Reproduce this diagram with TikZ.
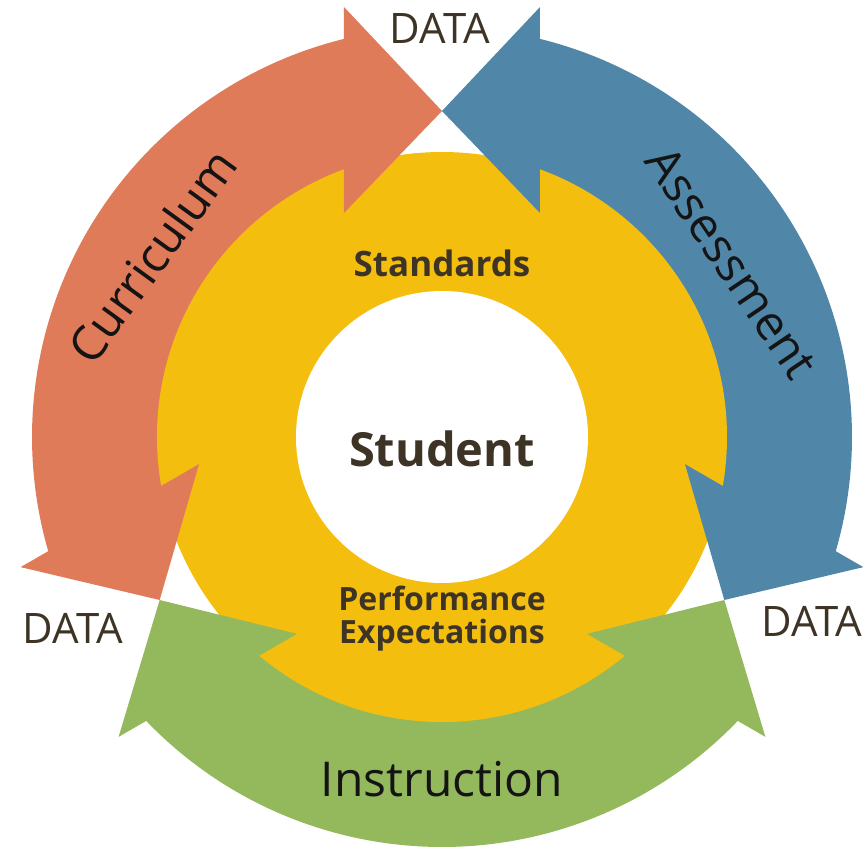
\documentclass[tikz,border=0pt]{standalone}
\usepackage{fontspec}
\setmainfont{Open Sans}

\definecolor{curriculum}{HTML}{E07B5A}
\definecolor{assessment}{HTML}{5087A8}
\definecolor{instruction}{HTML}{93B95C}
\definecolor{standards}{HTML}{F4BE0F}
\definecolor{labeltext}{HTML}{3D3426}

\tikzset{
  datalabel/.style={text=labeltext, font=\fontsize{42}{42}\selectfont},
  ringlabel/.style={text=labeltext, font=\bfseries\fontsize{35}{35}\selectfont},
  bandlabel/.style={text=black!92, font=\fontsize{48}{48}\selectfont},
}

\begin{document}
\begin{tikzpicture}[x=1pt, y=1pt]
    \useasboundingbox (-442,-420) rectangle (426,437);

    % bands of the three outer arrows (heads come later, on top of the ring)
    \foreach \rot/\col in {60/curriculum, -60/assessment, 180/instruction}
      \fill[\col, rotate=\rot] (43.7:410) arc[start angle=43.7, end angle=136.3, radius=410]
        -- (136.3:270) arc[start angle=136.3, end angle=43.7, radius=270] -- cycle;

    % yellow ring with the white centre
    \fill[standards] (0,0) circle[radius=285];
    \fill[white] (0,0) circle[radius=146];

    % arrow heads at both ends of each band
    \foreach \rot/\col in {60/curriculum, -60/assessment, 180/instruction} {
      \fill[\col, rotate=\rot-60] (-98,224) -- (0,326) -- (-98,430) -- cycle;
      \fill[\col, rotate=\rot+60] (98,224) -- (0,326) -- (98,430) -- cycle;
    }

    \node[bandlabel, rotate=54] (curr) at (148:342) {Curriculum};
    \node[bandlabel, rotate=-56] (assess) at (31:338) {Assessment};
    \node[bandlabel] (instr) at (0,-342) {Instruction};

    \node[datalabel] (datatop) at (-2,409) {DATA};
    \node[datalabel] (dataleft) at (-369,-191) {DATA};
    \node[datalabel] (dataright) at (370,-184) {DATA};

    \node[ringlabel] (stand) at (0,174) {Standards};
    \node[ringlabel, font=\bfseries\fontsize{47}{47}\selectfont] (student) at (0,-12) {Student};
    \node[ringlabel, align=center, font=\bfseries\fontsize{32}{33}\selectfont] (perf) at (0,-182)
      {Performance\\Expectations};
\end{tikzpicture}
\end{document}
